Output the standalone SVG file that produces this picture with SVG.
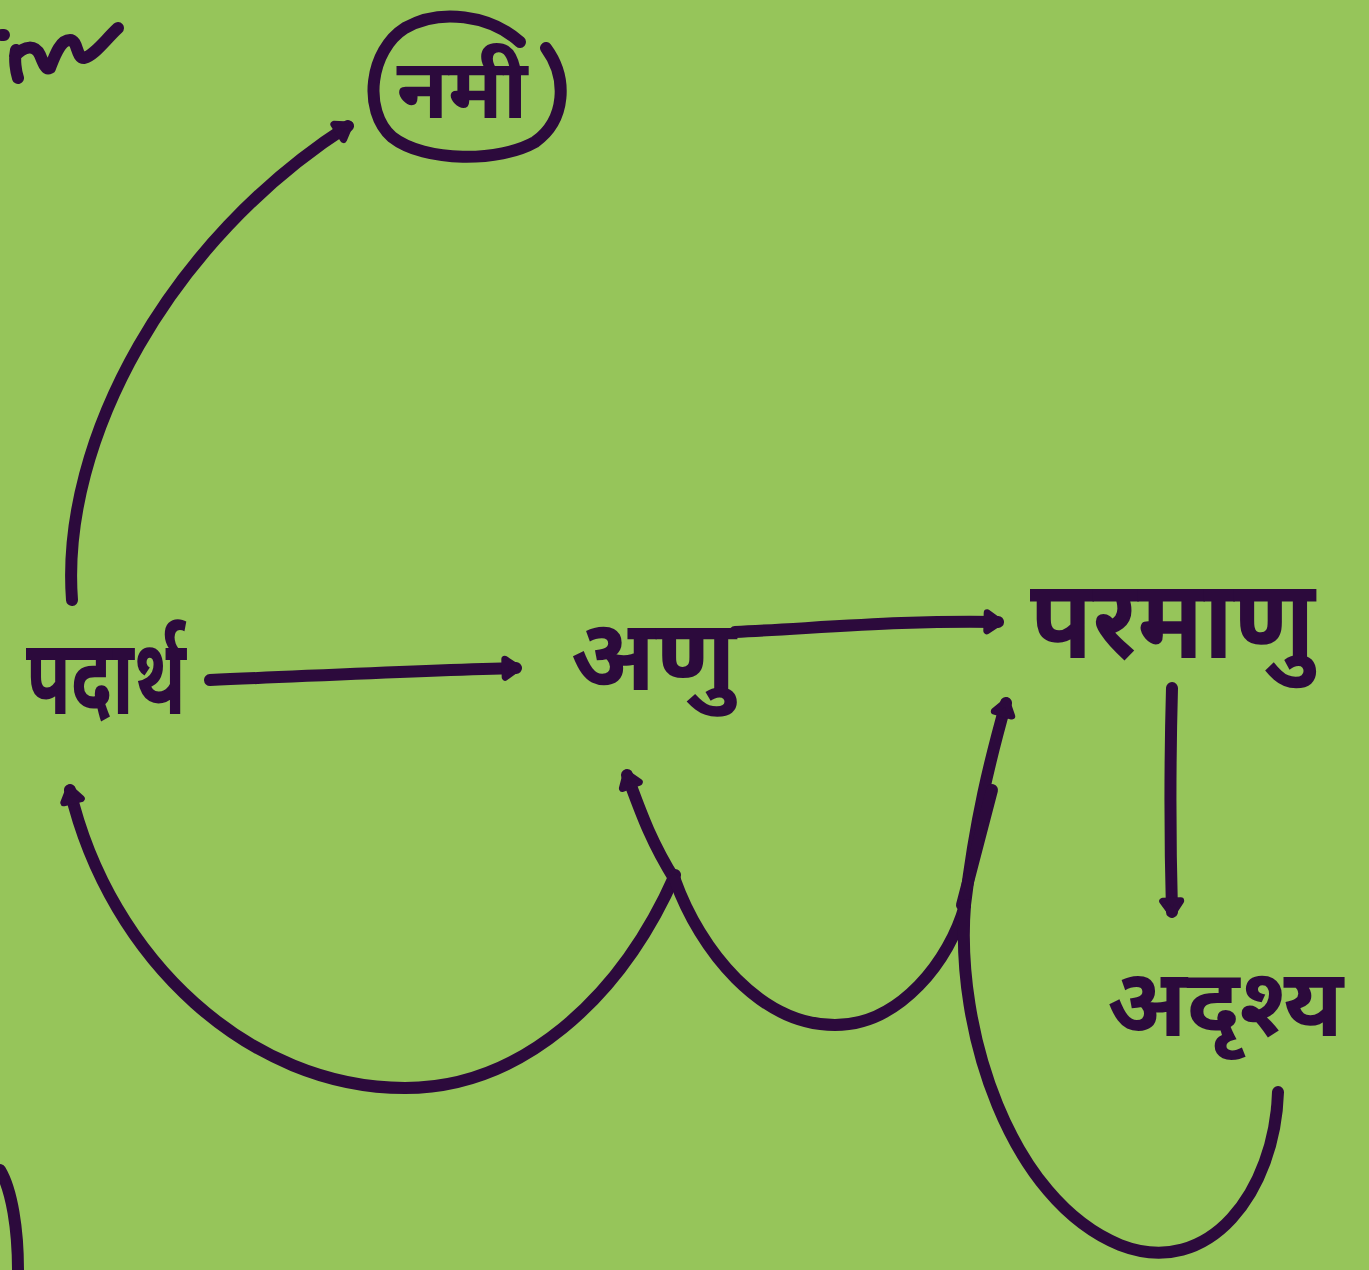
<svg xmlns="http://www.w3.org/2000/svg" width="1369" height="1270" viewBox="0 0 1369 1270">
  <style>
    .ink { fill: none; stroke: #2c0a3c; stroke-width: 12; stroke-linecap: round; stroke-linejoin: round; }
    .word { fill: #2c0a3c; font-family: "Noto Sans", "Noto Sans Devanagari", "Lohit Devanagari", "Mangal", sans-serif; font-weight: bold; }
  </style>
  <defs>
    <marker id="tip" viewBox="-20 -20 40 40" markerWidth="40" markerHeight="40" markerUnits="userSpaceOnUse" orient="auto" refX="0" refY="0">
      <path d="M-11,-9 L2,0 L-11,9 Z" fill="#2c0a3c" stroke="#2c0a3c" stroke-width="7" stroke-linejoin="round"/>
    </marker>
  </defs>
  <rect width="1369" height="1270" fill="#96c55a"/>

  <!-- scribbles cut at the edges -->
  <g id="edge-marks">
    <path class="ink" d="M2,35 L4,35 M16,50 C14,60 16,72 18,78 M15,56 C25,45 35,45 40,55 C44,65 46,70 50,68 C55,55 60,40 70,40 C78,40 76,58 84,58 C95,55 105,40 118,28"/>
    <path class="ink" d="M0,1170 C12,1190 18,1230 18,1270"/>
  </g>

  <g id="connectors">
    <path class="ink" marker-end="url(#tip)" d="M72,600 C60,440 170,240 348,126"/>
    <path class="ink" marker-end="url(#tip)" d="M210,680 C310,676 420,670 516,668"/>
    <path class="ink" marker-end="url(#tip)" d="M735,632 C820,628 910,620 998,622"/>
    <path class="ink" marker-end="url(#tip)" d="M1172,688 C1170,760 1170,840 1172,912"/>
    <path class="ink" marker-end="url(#tip)" d="M675,875 C620,1000 520,1088 405,1088 C250,1088 110,960 70,790"/>
    <path class="ink" marker-end="url(#tip)" d="M675,880 C650,840 640,810 627,775"/>
    <path class="ink" d="M675,880 C700,950 760,1025 835,1025 C900,1025 950,960 965,905"/>
    <path class="ink" marker-end="url(#tip)" d="M965,905 C975,820 990,760 1006,703"/>
    <path class="ink" d="M992,790 L962,905"/>
    <path class="ink" d="M965,905 C955,1030 1010,1200 1120,1245 C1210,1280 1275,1190 1278,1092"/>
  </g>

  <g id="node-nami">
    <path class="ink" d="M520,42 C490,15 440,8 405,28 C370,50 362,110 392,137 C425,163 500,162 535,142 C566,120 568,78 546,48"/>
    <text class="word" x="462" y="118" font-size="84" text-anchor="middle">नमी</text>
  </g>
  <g id="node-padarth">
    <text class="word" x="26" y="714" font-size="106" textLength="160" lengthAdjust="spacingAndGlyphs">पदार्थ</text>
  </g>
  <g id="node-anu">
    <text class="word" x="653" y="690" font-size="100" text-anchor="middle">अणु</text>
  </g>
  <g id="node-parmanu">
    <text class="word" x="1030" y="658" font-size="110" textLength="285" lengthAdjust="spacingAndGlyphs">परमाणु</text>
  </g>
  <g id="node-adrishya">
    <text class="word" x="1225" y="1036" font-size="94" text-anchor="middle">अदृश्य</text>
  </g>
</svg>
